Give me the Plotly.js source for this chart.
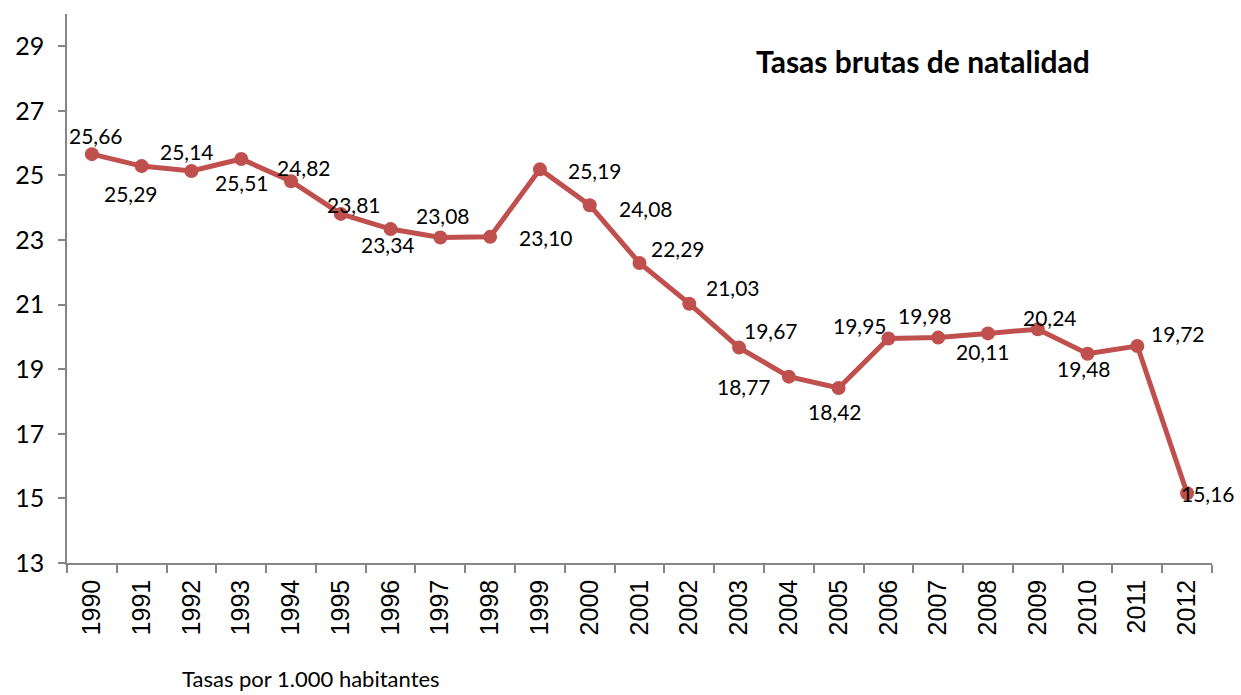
<!DOCTYPE html>
<html>
<head>
<meta charset="utf-8">
<script src="https://cdn.plot.ly/plotly-3.0.1.min.js"></script>
<style>
html,body{margin:0;padding:0;background:#fff;}
#chart{width:1241px;height:695px;}
</style>
</head>
<body>
<div id="chart"></div>
<script>
const years = ["1990","1991","1992","1993","1994","1995","1996","1997","1998","1999","2000","2001","2002","2003","2004","2005","2006","2007","2008","2009","2010","2011","2012"];
const rates = [25.66,25.29,25.14,25.51,24.82,23.81,23.34,23.08,23.10,25.19,24.08,22.29,21.03,19.67,18.77,18.42,19.95,19.98,20.11,20.24,19.48,19.72,15.16];
const yTicks = [13,15,17,19,21,23,25,27,29];
const chartTitle = "Tasas brutas de natalidad";
const footNote = "Tasas por 1.000 habitantes";

// label offsets in pixels (style only)
const labelShift = [[4,19],[-11,-27],[-4,19],[1,-23],[13,14],[13,9],[-3,-15],[3,22],[56,-1],[55,-1],[56,-3],[38,14],[44,16],[32,17],[-45,-10],[-4,-24],[-28,13],[-13,22],[-5,-18],[12,12],[-4,-15],[41,12],[21,0]];

const lineColor = "#C0504D";
const axisColor = "#868686";

const fmt = v => v.toFixed(2).replace(".", ",");

const annotations = years.map((yr, i) => ({
  x: i, y: rates[i], xref: "x", yref: "y",
  text: fmt(rates[i]), showarrow: false,
  xanchor: "center", yanchor: "middle",
  xshift: labelShift[i][0], yshift: labelShift[i][1],
  font: {family: "Lato, sans-serif", size: 21, color: "#000"}
}));

annotations.push({
  text: "<b>" + chartTitle + "</b>", showarrow: false,
  xref: "paper", yref: "paper", x: 0.7474, y: 0.915,
  xanchor: "center", yanchor: "middle",
  font: {family: "Lato, sans-serif", size: 30, color: "#000"}
});
annotations.push({
  text: footNote, showarrow: false,
  xref: "paper", yref: "paper", x: 0.0985, y: -0.2105,
  xanchor: "left", yanchor: "middle",
  font: {family: "Lato, sans-serif", size: 22, color: "#000"}
});

const trace = {
  type: "scatter", mode: "lines+markers",
  x: years, y: rates,
  line: {color: lineColor, width: 5},
  marker: {color: lineColor, size: 14},
  hoverinfo: "x+y"
};

const layout = {
  width: 1241, height: 695,
  margin: {l: 67, r: 29, t: 14, b: 132},
  paper_bgcolor: "#fff", plot_bgcolor: "#fff",
  showlegend: false,
  xaxis: {
    type: "category", range: [-0.5, 22.5],
    tickson: "boundaries", ticks: "outside", ticklen: 8, tickcolor: axisColor, tickwidth: 1.5,
    showline: true, linecolor: axisColor, linewidth: 1.5,
    showgrid: false, zeroline: false,
    tickangle: -90, tickfont: {family: "Liberation Sans, Arial, sans-serif", size: 25, color: "#000"},
    ticklabelstandoff: 5
  },
  yaxis: {
    range: [13, 30], tickvals: yTicks, ticktext: yTicks.map(String),
    ticks: "outside", ticklen: 7, tickcolor: axisColor, tickwidth: 1.5,
    showline: true, linecolor: axisColor, linewidth: 1.5,
    showgrid: false, zeroline: false,
    tickfont: {family: "Lato, sans-serif", size: 25, color: "#000"},
    ticklabelstandoff: 9
  },
  annotations: annotations
};

Plotly.newPlot("chart", [trace], layout, {displayModeBar: false, responsive: false});
</script>
</body>
</html>
